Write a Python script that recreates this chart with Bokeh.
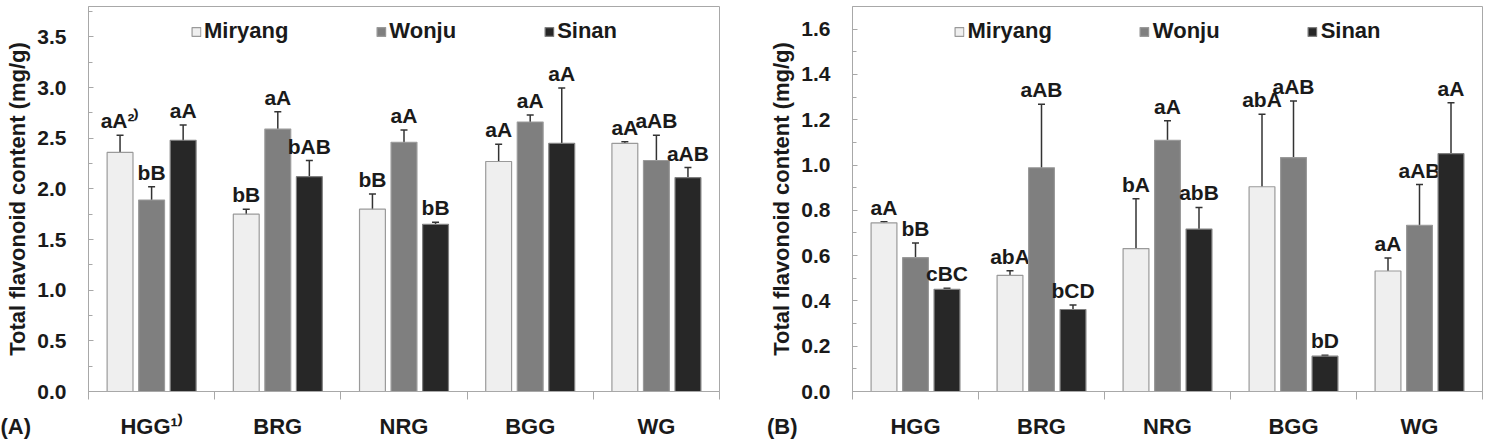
import numpy as np
from bokeh.plotting import figure
from bokeh.models import (Range1d, FixedTicker, SingleIntervalTicker, NumeralTickFormatter,
                          ColumnDataSource, Whisker, TeeHead, Legend, LegendItem)
from bokeh.layouts import row
from bokeh.embed import file_html
from bokeh.resources import INLINE
from bokeh.core.properties import value

# ---------------- data ----------------
categories = ["HGG", "BRG", "NRG", "BGG", "WG"]
tick_labels_a = ["HGG¹⁾", "BRG", "NRG", "BGG", "WG"]
tick_labels_b = ["HGG", "BRG", "NRG", "BGG", "WG"]
series = ["Miryang", "Wonju", "Sinan"]

# Panel (A)
a_miryang = [2.36, 1.75, 1.80, 2.27, 2.45]
a_miryang_err = [0.17, 0.05, 0.15, 0.17, 0.015]
a_wonju = [1.89, 2.59, 2.46, 2.66, 2.28]
a_wonju_err = [0.13, 0.17, 0.12, 0.07, 0.25]
a_sinan = [2.48, 2.12, 1.65, 2.45, 2.11]
a_sinan_err = [0.15, 0.16, 0.02, 0.545, 0.10]
a_miryang_lbl = ["aA²⁾", "bB", "bB", "aA", "aA"]
a_wonju_lbl = ["bB", "aA", "aA", "aA", "aAB"]
a_sinan_lbl = ["aA", "bAB", "bB", "aA", "aAB"]

# Panel (B)
b_miryang = [0.745, 0.513, 0.631, 0.904, 0.532]
b_miryang_err = [0.005, 0.02, 0.22, 0.32, 0.057]
b_wonju = [0.591, 0.988, 1.109, 1.033, 0.734]
b_wonju_err = [0.065, 0.28, 0.087, 0.25, 0.18]
b_sinan = [0.451, 0.362, 0.717, 0.156, 1.05]
b_sinan_err = [0.005, 0.02, 0.096, 0.004, 0.225]
b_miryang_lbl = ["aA", "abA", "bA", "abA", "aA"]
b_wonju_lbl = ["bB", "aAB", "aA", "aAB", "aAB"]
b_sinan_lbl = ["cBC", "bCD", "abB", "bD", "aA"]

FONT = "Liberation Sans"
TXT = "#1a1a1a"
GRID = "#a8a8a8"
fills = ["#efefef", "#7f7f7f", "#272727"]
edges = ["#9a9a9a", "#9a9a9a", "#808080"]
offsets = [-0.25, 0.0, 0.25]
NBSP = "\u00a0"


def make_panel(width, borders, ymax, interval, tick_labels, vals, errs, lbls, tag, tag_pad):
    bl, br, bt, bb = borders
    p = figure(width=width, height=441, output_backend="svg", toolbar_location=None,
               x_range=Range1d(0, len(categories)), y_range=Range1d(0, ymax),
               min_border_left=bl, min_border_right=br, min_border_top=bt, min_border_bottom=bb)
    p.xgrid.visible = False
    p.ygrid.visible = False
    p.outline_line_color = GRID
    p.outline_line_width = 1
    p.background_fill_color = "white"
    p.border_fill_color = "white"

    centers = np.arange(len(categories)) + 0.5
    renderers = []
    for k, name in enumerate(series):
        x = centers + offsets[k]
        v = np.array(vals[k])
        e = np.array(errs[k])
        src = ColumnDataSource(dict(x=x, top=v, up=v + e, lo=v - e, lbl=lbls[k]))
        r = p.vbar(x="x", top="top", width=0.205, bottom=0, source=src,
                   fill_color=fills[k], line_color=edges[k], line_width=1.2)
        renderers.append(r)
        w = Whisker(source=src, base="x", upper="up", lower="lo", dimension="height",
                    line_color="#333333", line_width=1.5,
                    upper_head=TeeHead(size=7, line_color="#333333", line_width=1.5),
                    lower_head=TeeHead(size=7, line_color="#333333", line_width=1.5))
        p.add_layout(w)
        p.text(x="x", y="up", text="lbl", source=src, text_align="center",
               text_baseline="bottom", y_offset=-3, text_color=TXT,
               text_font=value(FONT), text_font_style="bold", text_font_size="21px")

    # x axis: labels at category centres, ticks at category boundaries,
    # panel tag written as a label at the left edge of the axis
    xa = p.xaxis[0]
    xa.ticker = FixedTicker(ticks=[0.0] + list(centers),
                            minor_ticks=list(range(len(categories) + 1)))
    overrides = {float(c): t for c, t in zip(centers, tick_labels)}
    overrides[0.0] = tag + NBSP * tag_pad
    xa.major_label_overrides = overrides
    xa.major_tick_out = 0
    xa.major_tick_in = 0
    xa.minor_tick_out = 8
    xa.minor_tick_in = 0
    xa.minor_tick_line_color = GRID
    xa.axis_line_color = GRID
    xa.major_label_standoff = 14
    xa.major_label_text_font = FONT
    xa.major_label_text_font_style = "bold"
    xa.major_label_text_font_size = "22px"
    xa.major_label_text_color = TXT

    ya = p.yaxis[0]
    ya.ticker = SingleIntervalTicker(interval=interval, num_minor_ticks=2)
    ya.formatter = NumeralTickFormatter(format="0.0")
    ya.major_tick_out = 0
    ya.major_tick_in = 5
    ya.minor_tick_out = 0
    ya.minor_tick_in = 4
    ya.major_tick_line_color = GRID
    ya.minor_tick_line_color = GRID
    ya.axis_line_color = GRID
    ya.major_label_standoff = 22
    ya.major_label_text_font = FONT
    ya.major_label_text_font_style = "bold"
    ya.major_label_text_font_size = "21px"
    ya.major_label_text_color = TXT
    ya.axis_label = "Total flavonoid content (mg/g)"
    ya.axis_label_standoff = 4
    ya.axis_label_text_font = FONT
    ya.axis_label_text_font_style = "bold"
    ya.axis_label_text_font_size = "22px"
    ya.axis_label_text_color = TXT

    legend = Legend(items=[LegendItem(label=s, renderers=[r]) for s, r in zip(series, renderers)],
                    orientation="horizontal", location="top_center",
                    border_line_alpha=0, background_fill_alpha=0,
                    glyph_width=11, glyph_height=11, label_standoff=3, spacing=87,
                    padding=0, margin=12,
                    label_text_font=FONT, label_text_font_style="bold",
                    label_text_font_size="22px", label_text_color=TXT)
    p.add_layout(legend)
    return p


pa = make_panel(740, (88, 21, 6, 44), 3.8, 0.5, tick_labels_a,
                [a_miryang, a_wonju, a_sinan], [a_miryang_err, a_wonju_err, a_sinan_err],
                [a_miryang_lbl, a_wonju_lbl, a_sinan_lbl], "(A)", 24)
pb = make_panel(756, (112, 14, 2, 39), 1.7, 0.2, tick_labels_b,
                [b_miryang, b_wonju, b_sinan], [b_miryang_err, b_wonju_err, b_sinan_err],
                [b_miryang_lbl, b_wonju_lbl, b_sinan_lbl], "(B)", 23)

layout = row(pa, pb)
open("out.html", "w").write(file_html(layout, INLINE))
